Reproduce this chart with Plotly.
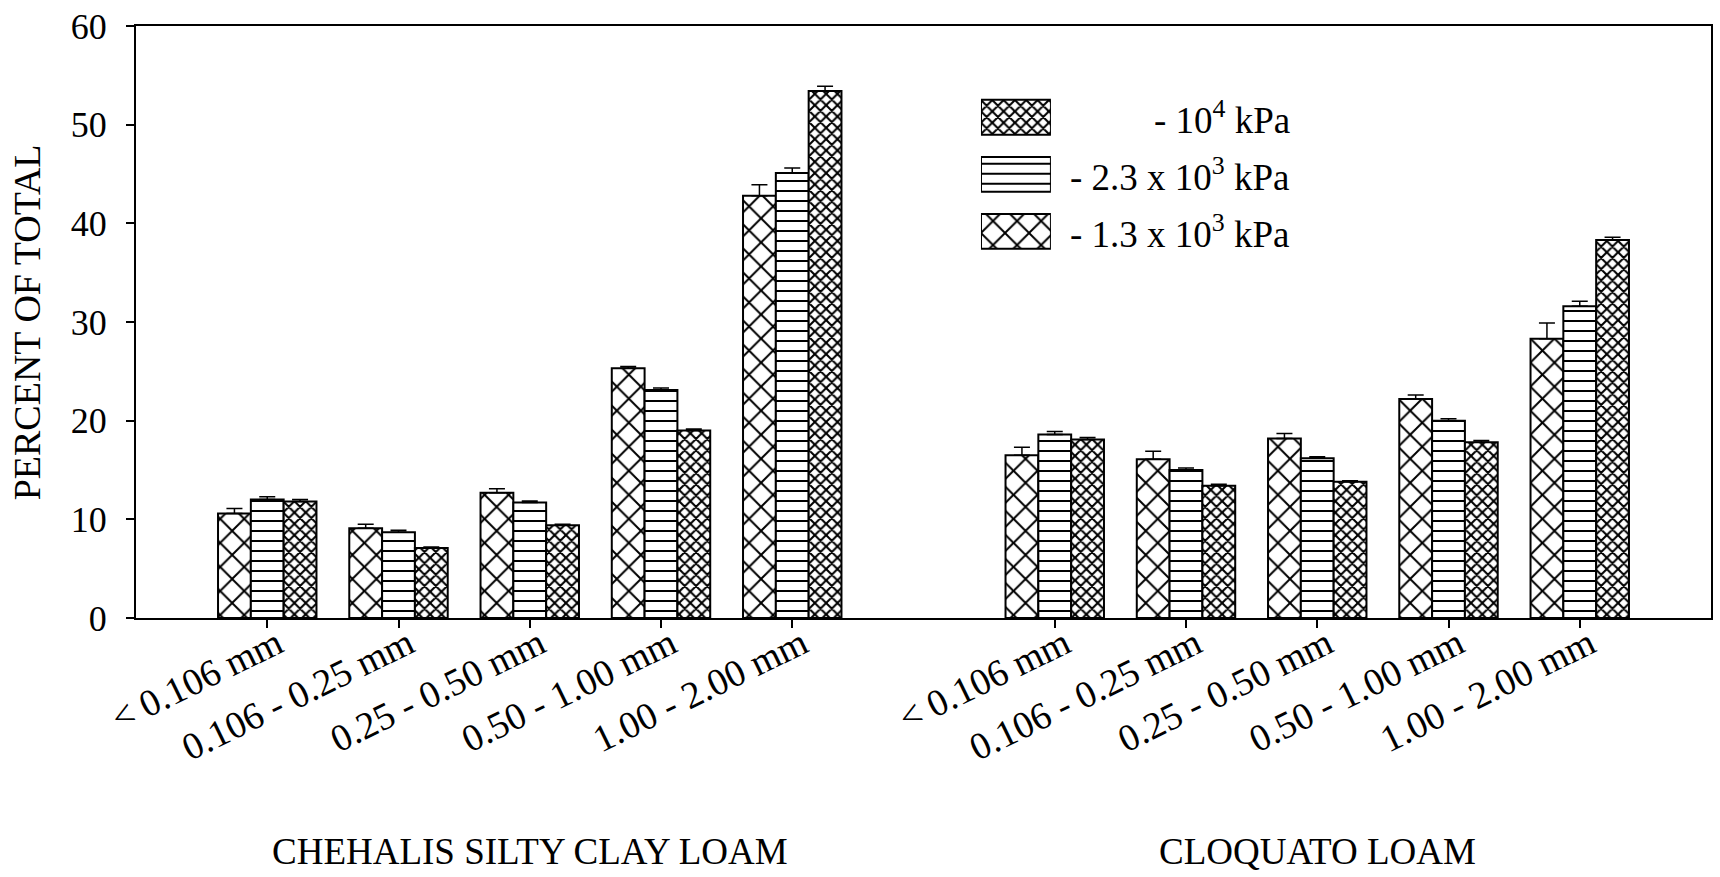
import plotly.graph_objects as go

# Aggregate size classes and soils
size_classes = ["< 0.106 mm", "0.106 - 0.25 mm", "0.25 - 0.50 mm",
                "0.50 - 1.00 mm", "1.00 - 2.00 mm"]
soils = ["CHEHALIS SILTY CLAY LOAM", "CLOQUATO LOAM"]

# Percent of total, per soil (Chehalis first, then Cloquato)
pct_1p3e3 = [10.6, 9.1, 12.7, 25.3, 42.8,
             16.5, 16.1, 18.2, 22.2, 28.3]
pct_2p3e3 = [12.0, 8.7, 11.7, 23.1, 45.1,
             18.6, 15.0, 16.2, 20.0, 31.6]
pct_1e4 = [11.8, 7.1, 9.4, 19.0, 53.4,
           18.1, 13.4, 13.8, 17.8, 38.3]

# Standard errors (upper whiskers)
se_1p3e3 = [0.5, 0.4, 0.4, 0.2, 1.1,
            0.8, 0.8, 0.5, 0.4, 1.6]
se_2p3e3 = [0.3, 0.2, 0.15, 0.2, 0.5,
            0.3, 0.2, 0.15, 0.2, 0.5]
se_1e4 = [0.2, 0.1, 0.1, 0.15, 0.5,
          0.2, 0.15, 0.1, 0.2, 0.3]

legend_labels = ["- 10<sup>4</sup> kPa",
                 "- 2.3 x 10<sup>3</sup> kPa",
                 "- 1.3 x 10<sup>3</sup> kPa"]

FONT = "Liberation Serif"
n_cls = len(size_classes)
gap = 1  # empty slot between the two soils
xpos = [s * (n_cls + gap) + i for s in range(len(soils)) for i in range(n_cls)]
tick_text = size_classes * len(soils)

styles = {
    "1p3e3": dict(shape="x", size=17, solidity=0.22),
    "2p3e3": dict(shape="-", size=10, solidity=0.2),
    "1e4": dict(shape="x", size=8, solidity=0.45),
}

fig = go.Figure()

series = [
    ("1p3e3", pct_1p3e3, se_1p3e3),
    ("2p3e3", pct_2p3e3, se_2p3e3),
    ("1e4", pct_1e4, se_1e4),
]
for key, vals, errs in series:
    st = styles[key]
    fig.add_trace(go.Bar(
        x=xpos, y=vals,
        marker=dict(color="white",
                    line=dict(color="black", width=2),
                    pattern=dict(shape=st["shape"], size=st["size"],
                                 solidity=st["solidity"],
                                 fgcolor="black", bgcolor="white",
                                 fillmode="replace")),
        error_y=dict(type="data", symmetric=False, array=errs,
                     arrayminus=[0] * len(errs),
                     color="black", thickness=1.5, width=8),
        showlegend=False,
    ))

# Legend swatches drawn as patterned bars on a hidden inset axis
legend_keys = ["1e4", "2p3e3", "1p3e3"]
for row, key in enumerate(legend_keys):
    st = styles[key]
    fig.add_trace(go.Bar(
        x=[1], y=[len(legend_keys) - 1 - row + 0.5], orientation="h",
        width=0.61, offset=-0.305,
        marker=dict(color="white",
                    line=dict(color="black", width=2),
                    pattern=dict(shape=st["shape"], size=st["size"],
                                 solidity=st["solidity"],
                                 fgcolor="black", bgcolor="white",
                                 fillmode="replace")),
        xaxis="x2", yaxis="y2", showlegend=False, hoverinfo="skip",
    ))

annotations = []
row_y_paper = [(618 - c) / 595 for c in (114.7, 172.0, 229.3)]
for lab, yp in zip(legend_labels, row_y_paper):
    annotations.append(dict(
        text=lab, x=0.7337, y=yp, xref="paper", yref="paper",
        xanchor="right", yanchor="middle", showarrow=False,
        font=dict(family=FONT, size=37, color="black")))

for s, name in enumerate(soils):
    center = s * (n_cls + gap) + (n_cls - 1) / 2
    annotations.append(dict(
        text=name, x=center, y=-0.395, xref="x", yref="paper",
        xanchor="center", yanchor="middle", showarrow=False,
        font=dict(family=FONT, size=37, color="black")))

annotations.append(dict(
    text="PERCENT OF TOTAL", x=-0.069, y=0.5, xref="paper", yref="paper",
    xanchor="center", yanchor="middle", textangle=-90, showarrow=False,
    font=dict(family=FONT, size=38, color="black")))

fig.update_layout(
    width=1720, height=877,
    margin=dict(l=136, r=7, t=23, b=259),
    paper_bgcolor="white", plot_bgcolor="white",
    barmode="group", bargap=0.25, bargroupgap=0,
    font=dict(family=FONT, color="black"),
    annotations=annotations,
    xaxis=dict(
        range=[-1, len(soils) * (n_cls + gap) - gap],
        tickmode="array", tickvals=xpos, ticktext=tick_text,
        tickangle=-26, ticks="outside", ticklen=8, tickwidth=2,
        tickcolor="black", showline=True, linecolor="black", linewidth=2,
        mirror=True, showgrid=False, zeroline=False,
        ticklabelstandoff=-21, ticklabelshift=10,
        tickfont=dict(family=FONT, size=38, color="black"),
    ),
    yaxis=dict(
        range=[0, 60], tickvals=[0, 10, 20, 30, 40, 50, 60],
        ticks="outside", ticklen=8, tickwidth=2, tickcolor="black",
        showline=True, linecolor="black", linewidth=2, mirror=True,
        showgrid=False, zeroline=False, ticklabelstandoff=12,
        tickfont=dict(family=FONT, size=36, color="black"),
    ),
    xaxis2=dict(domain=[0.5365, 0.5809], range=[0, 1], visible=False,
                anchor="y2", fixedrange=True),
    yaxis2=dict(domain=[0.605, 0.894], range=[0, 3], visible=False,
                anchor="x2", fixedrange=True),
)

fig.write_html("out.html")
